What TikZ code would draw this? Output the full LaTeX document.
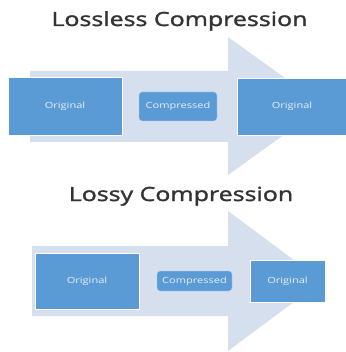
\documentclass[tikz,border=0pt]{standalone}
\usepackage{fontspec}
\setmainfont{Open Sans}
\newfontfamily\titlefont[FakeStretch=1.28,FakeBold=1.6]{Open Sans}
\newfontfamily\boxfont[FakeStretch=1.3]{Open Sans}
\definecolor{boxblue}{HTML}{5B9BD5}
\definecolor{arrowbg}{HTML}{D6DFEE}
\definecolor{titlegray}{HTML}{333333}
\begin{document}
\begin{tikzpicture}[x=1pt,y=-1pt,
  title/.style={font=\titlefont\fontsize{19.5}{22}\selectfont, text=titlegray, inner sep=0pt, anchor=base},
  bigbox/.style={fill=boxblue, draw=white, line width=0.6pt, text=white!85!boxblue, font=\boxfont\fontsize{8.5}{10}\selectfont, inner sep=0pt},
  compbox/.style={fill=boxblue, draw=white!60!boxblue, line width=0.4pt, rounded corners=3pt, text=white!85!boxblue, font=\boxfont\fontsize{8.5}{10}\selectfont, inner sep=0pt},
  bigarrow/.style={fill=arrowbg, draw=none}]
\useasboundingbox (0,0) rectangle (345,352);
\fill[white] (0,0) rectangle (345,352);
% ---- Lossless ----
\node[title] (t1) at (179.5,26) {Lossless Compression};
\fill[bigarrow] (30,71) -- (228,71) -- (228,37) -- (324,106) -- (228,175) -- (228,142) -- (30,142) -- cycle;
\node[bigbox, minimum width=114pt, minimum height=58pt] (o1) at (65,106) {Original};
\node[compbox, minimum width=78pt, minimum height=29pt] (c1) at (178,106.5) {Compressed};
\node[bigbox, minimum width=110pt, minimum height=57pt] (r1) at (292,106.5) {Original};
% ---- Lossy ----
\node[title] (t2) at (181,201) {Lossy Compression};
\fill[bigarrow] (32,246) -- (228,246) -- (228,211) -- (322,281) -- (228,351) -- (228,316) -- (32,316) -- cycle;
\node[bigbox, minimum width=104pt, minimum height=56pt] (o2) at (87,281) {Original};
\node[compbox, minimum width=75pt, minimum height=20pt] (c2) at (194.5,281) {Compressed};
\node[bigbox, minimum width=75pt, minimum height=42pt] (r2) at (287.5,281) {Original};
\end{tikzpicture}
\end{document}
